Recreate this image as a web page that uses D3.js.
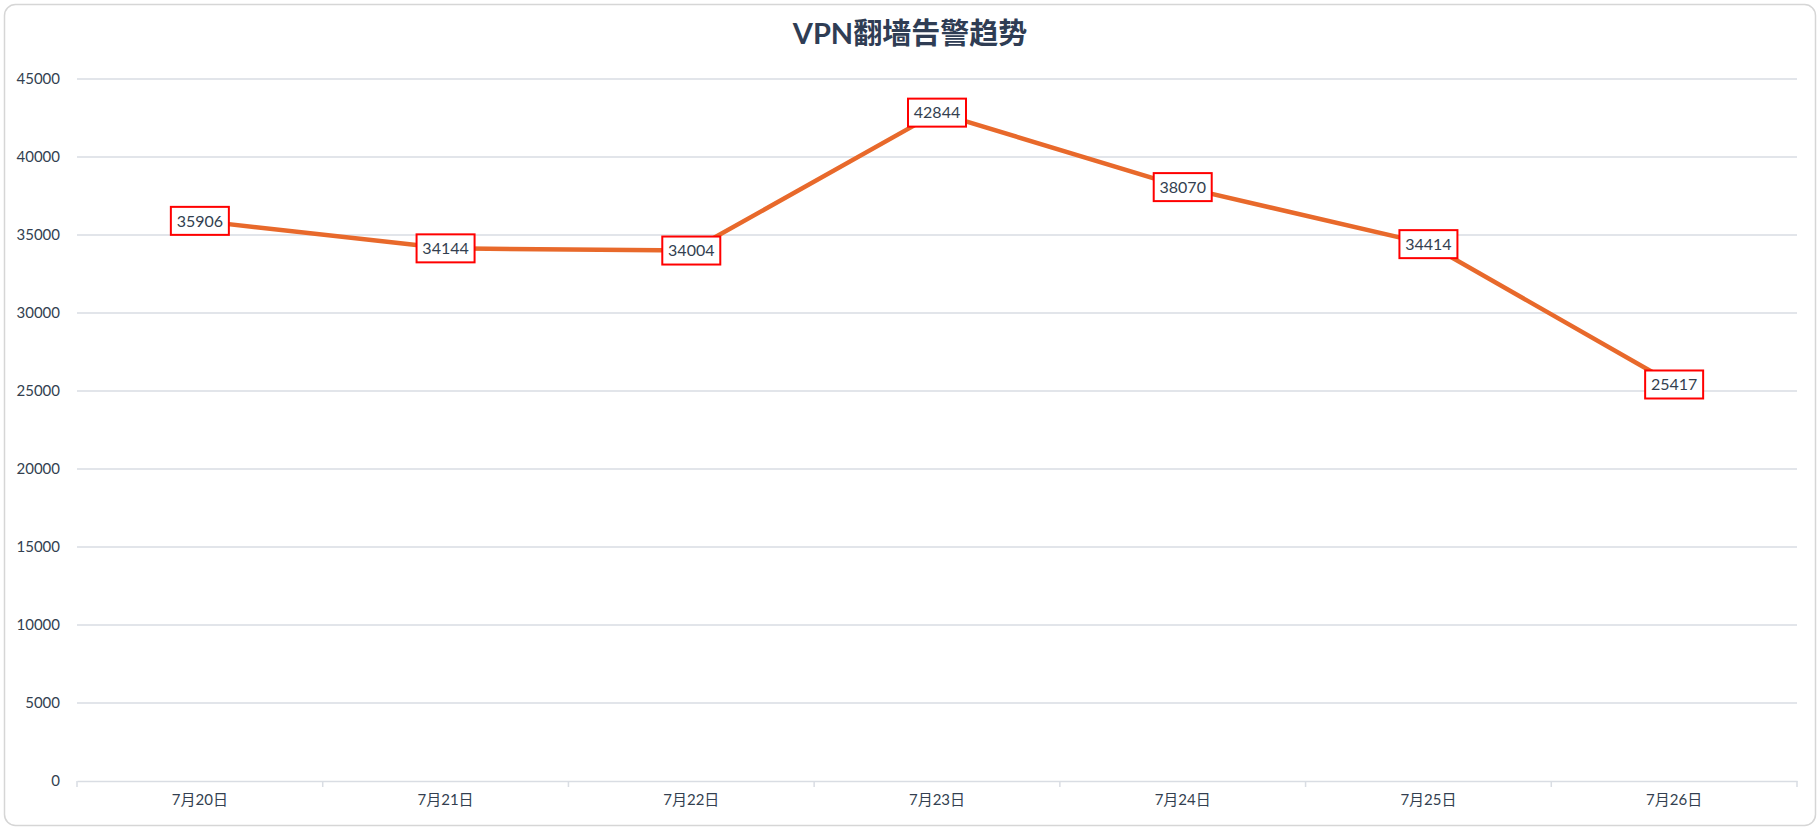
<!DOCTYPE html>
<html>
<head>
<meta charset="utf-8">
<script src="https://cdn.jsdelivr.net/npm/d3@7"></script>
<style>
    html, body { margin: 0; padding: 0; background: #ffffff; }
    svg text { font-family: Lato, 'Noto Sans CJK SC', sans-serif; }
</style>
</head>
<body>
<div class="chart"></div>
<script>
const categories = ['7月20日', '7月21日', '7月22日', '7月23日', '7月24日', '7月25日', '7月26日'];
const alerts = [35906, 34144, 34004, 42844, 38070, 34414, 25417];
const yTicks = [0, 5000, 10000, 15000, 20000, 25000, 30000, 35000, 40000, 45000];
const TITLE = 'VPN翻墙告警趋势';

const WIDTH = 1820;
const HEIGHT = 830;
const MARGINS = { top: 79, right: 23, bottom: 49, left: 77 };
const TEXT_COLOR = '#333f50';
const GRID_COLOR = '#d9dde3';

const svg = d3
    .select('.chart')
    .append('svg')
    .attr('width', WIDTH)
    .attr('height', HEIGHT);

// card background
svg.append('rect')
    .attr('x', 4.5)
    .attr('y', 4.5)
    .attr('width', WIDTH - 9)
    .attr('height', HEIGHT - 9)
    .attr('rx', 11)
    .attr('fill', '#ffffff')
    .attr('stroke', '#d6d6d6')
    .attr('stroke-width', 1.5);

svg.append('text')
    .attr('x', 910)
    .attr('y', 44)
    .attr('text-anchor', 'middle')
    .attr('font-size', 29)
    .attr('font-weight', 'bold')
    .attr('fill', '#2f3d54')
    .text(TITLE);

const xScale = d3
    .scaleBand()
    .domain(categories)
    .range([MARGINS.left, WIDTH - MARGINS.right]);

const yScale = d3
    .scaleLinear()
    .domain([0, 45000])
    .range([HEIGHT - MARGINS.bottom, MARGINS.top]);

// gridlines
svg.append('g')
    .selectAll('line')
    .data(yTicks.slice(1))
    .join('line')
    .attr('x1', MARGINS.left)
    .attr('x2', WIDTH - MARGINS.right)
    .attr('y1', (d) => yScale(d))
    .attr('y2', (d) => yScale(d))
    .attr('stroke', GRID_COLOR)
    .attr('stroke-width', 1.5);

// y axis
const yAxisEl = svg.append('g')
    .attr('transform', `translate(${MARGINS.left}, 0)`)
    .call(
        d3.axisLeft(yScale)
            .tickValues(yTicks)
            .tickFormat(d3.format('d'))
            .tickSize(0)
            .tickPadding(17)
    );
yAxisEl.select('.domain').remove();
yAxisEl.selectAll('text')
    .attr('font-size', 15)
    .attr('fill', TEXT_COLOR);

// x axis with ticks on band boundaries
const xAxisEl = svg.append('g')
    .attr('transform', `translate(0, ${yScale(0)})`)
    .call(d3.axisBottom(xScale).tickSize(0).tickPadding(13));
xAxisEl.select('.domain')
    .attr('stroke', GRID_COLOR)
    .attr('stroke-width', 1.5);
xAxisEl.selectAll('text')
    .attr('font-size', 15)
    .attr('fill', TEXT_COLOR);

const bounds = [...categories.map((c) => xScale(c)), xScale.range()[1]];
xAxisEl.selectAll('.boundary')
    .data(bounds)
    .join('line')
    .attr('class', 'boundary')
    .attr('x1', (d) => d)
    .attr('x2', (d) => d)
    .attr('y1', 0)
    .attr('y2', 6)
    .attr('stroke', GRID_COLOR)
    .attr('stroke-width', 1.5);

const points = categories.map((c, i) => ({ name: c, value: alerts[i] }));
const cx = (d) => xScale(d.name) + xScale.bandwidth() / 2;

// the series line
svg.append('path')
    .datum(points)
    .attr('fill', 'none')
    .attr('stroke', '#e8692b')
    .attr('stroke-width', 4.5)
    .attr('stroke-linejoin', 'round')
    .attr('d', d3.line().x(cx).y((d) => yScale(d.value)));

// value labels in red boxes
const labels = svg.append('g')
    .selectAll('g')
    .data(points)
    .join('g')
    .attr('transform', (d) => `translate(${cx(d)}, ${yScale(d.value)})`);

labels.append('rect')
    .attr('x', -29)
    .attr('y', -14)
    .attr('width', 58)
    .attr('height', 28)
    .attr('fill', '#ffffff')
    .attr('stroke', '#ff0000')
    .attr('stroke-width', 2);

labels.append('text')
    .attr('text-anchor', 'middle')
    .attr('dy', '0.36em')
    .attr('font-size', 16)
    .attr('fill', TEXT_COLOR)
    .text((d) => d.value);
</script>
</body>
</html>
